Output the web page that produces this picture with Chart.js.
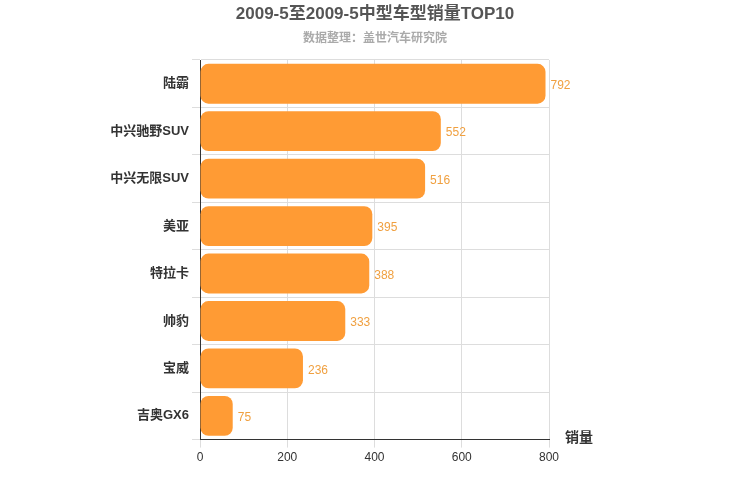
<!DOCTYPE html>
<html><head><meta charset="utf-8">
<script src="https://cdn.jsdelivr.net/npm/chart.js@4/dist/chart.umd.min.js"></script>
<style>body{margin:0;background:#fff}#w{width:750px;height:500px}</style>
</head><body><div id="w"><canvas id="c"></canvas></div>
<script>
const categories=["陆霸","中兴驰野SUV","中兴无限SUV","美亚","特拉卡","帅豹","宝威","吉奥GX6"];
const sales=[792,552,516,395,388,333,236,75];
const xTicks=[0,200,400,600,800];
const F='"Liberation Sans","Noto Sans CJK SC",sans-serif';
const extras={id:'extras',afterDatasetsDraw(ch){
 const ctx=ch.ctx,m=ch.getDatasetMeta(0);
 ctx.save();ctx.font='12px '+F;ctx.fillStyle='#f0a040';ctx.textBaseline='middle';ctx.textAlign='left';
 m.data.forEach((b,i)=>ctx.fillText(sales[i],b.x+5,b.y+2));
 ctx.fillStyle='#333';ctx.font='bold 14px '+F;ctx.fillText('销量',565,438);
 ctx.textAlign='center';ctx.fillStyle='#555';ctx.font='bold 17px '+F;ctx.fillText('2009-5至2009-5中型车型销量TOP10',375,14);
 ctx.fillStyle='#aaa';ctx.font='bold 12px '+F;ctx.fillText('数据整理：盖世汽车研究院',375,39);
 ctx.restore();}};
new Chart(document.getElementById('c'),{type:'bar',
data:{labels:categories,datasets:[{data:sales,backgroundColor:'#ff9b34',borderRadius:8,borderSkipped:false,categoryPercentage:0.84,barPercentage:1}]},
options:{indexAxis:'y',responsive:true,maintainAspectRatio:false,animation:false,
layout:{padding:{left:0,right:201,top:60,bottom:32}},
plugins:{legend:{display:false},tooltip:{enabled:false}},
scales:{x:{min:0,max:800,ticks:{stepSize:200,color:'#333',font:{size:12,family:F},callback:v=>xTicks.includes(v)?v:''},grid:{color:'#ddd',drawTicks:true},border:{color:'#333'}},
 y:{afterFit(s){s.width=200;},ticks:{color:'#333',font:{size:13,weight:'bold',family:F}},grid:{color:'#ddd',offset:true},border:{color:'#333'}}}},
plugins:[extras]});
</script></body></html>
